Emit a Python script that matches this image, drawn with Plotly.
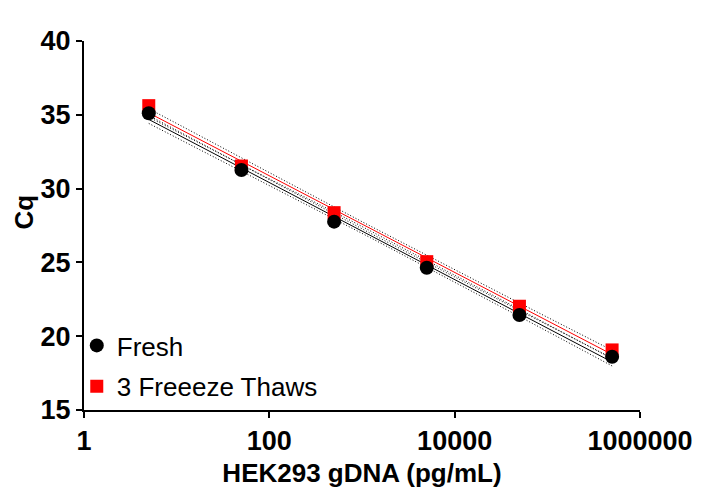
import numpy as np
import plotly.graph_objects as go

# HEK293 gDNA standard curve, fresh vs 3 freeze-thaw cycles (means of triplicates)
conc = [5, 50, 500, 5000, 50000, 500000]          # pg/mL
cq_fresh = [35.10, 31.26, 27.76, 24.64, 21.44, 18.61]
cq_thaw = [35.62, 31.53, 28.37, 25.05, 22.03, 19.07]

N_REP = 3
T_CRIT = 2.120  # t(0.975, df=16) for 6 levels x 3 replicates
FONT = "Arial, Liberation Sans, sans-serif"


def fit_with_ci(x, y, n_pts=60):
    lx = np.repeat(np.log10(x), N_REP)
    y = np.repeat(np.asarray(y), N_REP)
    slope, icpt = np.polyfit(lx, y, 1)
    resid = y - (slope * lx + icpt)
    s = np.sqrt(np.sum(resid ** 2) / (len(lx) - 2))
    gx = np.linspace(lx.min(), lx.max(), n_pts)
    fit = slope * gx + icpt
    se = s * np.sqrt(1 / len(lx) + (gx - lx.mean()) ** 2 / np.sum((lx - lx.mean()) ** 2))
    return 10 ** gx, fit, fit - T_CRIT * se, fit + T_CRIT * se


fig = go.Figure()

for ys, col in [(cq_fresh, "black"), (cq_thaw, "red")]:
    gx, fit, lo, hi = fit_with_ci(conc, ys)
    for band in (lo, hi):
        fig.add_trace(go.Scatter(x=gx, y=band, mode="lines", showlegend=False,
                                 line=dict(color="black", width=1, dash="1px,2px")))
    fig.add_trace(go.Scatter(x=gx, y=fit, mode="lines", showlegend=False,
                             line=dict(color=col, width=1)))

fig.add_trace(go.Scatter(x=conc, y=cq_thaw, mode="markers", name="3 Freeeze Thaws",
                         legendgroup="b", legendrank=2,
                         marker=dict(symbol="square", color="red", size=13)))
fig.add_trace(go.Scatter(x=conc, y=cq_fresh, mode="markers", name="Fresh",
                         legendgroup="a", legendrank=1,
                         marker=dict(symbol="circle", color="black", size=14)))

# y title placed as annotation (sits a bit above the axis centre in the original)
fig.add_annotation(text="<b>Cq</b>", textangle=-90, showarrow=False,
                   xref="paper", yref="paper", x=0, y=0.535,
                   xanchor="center", yanchor="middle", xshift=-60,
                   font=dict(size=26, family=FONT, color="black"))

fig.update_layout(
    width=721, height=496,
    margin=dict(l=76, r=89, t=33, b=94),
    plot_bgcolor="white", paper_bgcolor="white",
    font=dict(family=FONT, color="black"),
    legend=dict(x=-0.013, y=0.0, xanchor="left", yanchor="bottom",
                bgcolor="rgba(0,0,0,0)", traceorder="grouped", tracegroupgap=4,
                font=dict(size=26, family=FONT)),
    xaxis=dict(
        type="log", range=[0, 6], automargin=False,
        tickvals=[1, 100, 10000, 1000000], ticktext=["1", "100", "10000", "1000000"],
        showgrid=False, zeroline=False, showline=True, linecolor="black", linewidth=2,
        ticks="outside", ticklen=6, tickwidth=2, tickcolor="black",
        tickfont=dict(size=27, family=FONT, weight="bold"),
        title=dict(text="<b>HEK293 gDNA (pg/mL)</b>", font=dict(size=26), standoff=8),
    ),
    yaxis=dict(
        range=[15, 40], tickvals=[15, 20, 25, 30, 35, 40], automargin=False,
        showgrid=False, zeroline=False, showline=True, linecolor="black", linewidth=2,
        ticks="outside", ticklen=6, tickwidth=2, tickcolor="black",
        tickfont=dict(size=27, family=FONT, weight="bold"),
    ),
)

fig.write_html("out.html")
